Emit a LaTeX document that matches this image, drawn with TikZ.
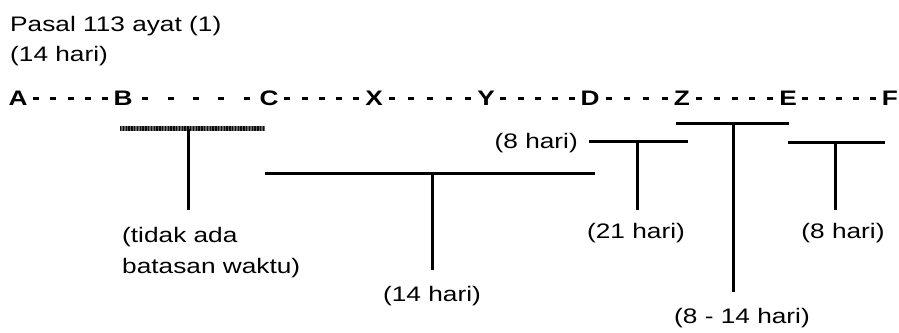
\documentclass[tikz,border=0pt]{standalone}
\usepackage{fontspec}
\setmainfont[FakeStretch=1.25]{Liberation Sans}
\usetikzlibrary{calc}
\begin{document}
\begin{tikzpicture}[x=1pt,y=-1pt,
  lab/.style={inner sep=0pt,anchor=base,font=\fontsize{21}{30}\selectfont},
  labw/.style={lab,anchor=base west},
  letter/.style={inner sep=0pt,anchor=base,font=\fontsize{21}{30}\selectfont\bfseries},
  bar/.style={line width=3pt},
  stem/.style={line width=3pt},
  dashmark/.style={line width=3pt}]
\useasboundingbox (0,0) rectangle (899,332);
% heading
\node[labw] (p1) at (10,31) {Pasal 113 ayat (1)};
\node[labw] (p2) at (10,61) {(14 hari)};
% letters
\node[letter] (A) at (18,105) {A};
\node[letter] (B) at (123,105) {B};
\node[letter] (C) at (269,105) {C};
\node[letter] (X) at (374,105) {X};
\node[letter] (Y) at (486,105) {Y};
\node[letter] (D) at (590,105) {D};
\node[letter] (Z) at (682,105) {Z};
\node[letter] (E) at (788,105) {E};
\node[letter] (F) at (890,105) {F};
% dashes between letters
\foreach \a/\b/\k in {A/B/5,B/C/5,C/X/5,X/Y/5,Y/D/5,D/Z/4,Z/E/5,E/F/5}{
  \foreach \i in {1,...,\k}{
    \path let \p1=(\a.east), \p2=(\b.west) in
      coordinate (dm) at ($(\p1)!{(\i-0.5)/\k}!(\p2)$);
    \draw[dashmark] ($(dm|-0,98.5)+(-3pt,0)$) -- ($(dm|-0,98.5)+(3pt,0)$);
  }
}
% T 1: B-C (no time limit)
\coordinate (b1l) at (120,128.5);
\coordinate (b1r) at (265,128.5);
\coordinate (s1t) at (188,128.5);
\coordinate (s1b) at (188,210);
\draw[line width=4.2pt,black!60] (b1l) -- (b1r);
\draw[line width=4.2pt,black!95,dash pattern=on 1.3pt off 1.5pt] (b1l) -- (b1r);
\draw[stem] (s1t) -- (s1b);
\node[labw] (t1a) at (122,242) {(tidak ada};
\node[labw] (t1b) at (122,273) {batasan waktu)};
% T 2: C-D (14 hari)
\coordinate (b2l) at (265,173);
\coordinate (b2r) at (595,173);
\coordinate (s2t) at (432,173);
\coordinate (s2b) at (432,270);
\draw[bar] (b2l) -- (b2r);
\draw[stem] (s2t) -- (s2b);
\node[lab] (t2) at (432,301) {(14 hari)};
% T 3: D-Z (21 hari)
\coordinate (b3l) at (589,141);
\coordinate (b3r) at (688,141);
\coordinate (s3t) at (637,141);
\coordinate (s3b) at (637,210);
\draw[bar] (b3l) -- (b3r);
\draw[stem] (s3t) -- (s3b);
\node[lab] (t3) at (636,238) {(21 hari)};
\node[lab,anchor=base east] (t3l) at (578,148) {(8 hari)};
% T 4: Z-E (8 - 14 hari)
\coordinate (b4l) at (676,123);
\coordinate (b4r) at (789,123);
\coordinate (s4t) at (733,123);
\coordinate (s4b) at (733,292);
\draw[bar] (b4l) -- (b4r);
\draw[stem] (s4t) -- (s4b);
\node[lab] (t4) at (742,323) {(8 - 14 hari)};
% T 5: E-F (8 hari)
\coordinate (b5l) at (788,142);
\coordinate (b5r) at (885,142);
\coordinate (s5t) at (835,142);
\coordinate (s5b) at (835,210);
\draw[bar] (b5l) -- (b5r);
\draw[stem] (s5t) -- (s5b);
\node[lab] (t5) at (843,238) {(8 hari)};
\end{tikzpicture}
\end{document}
